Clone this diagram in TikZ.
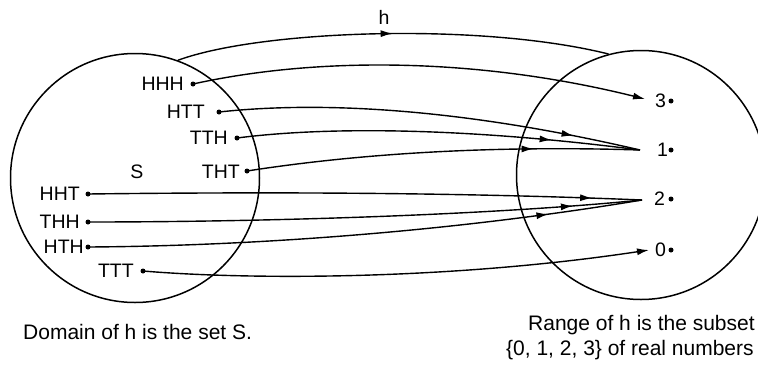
\documentclass[tikz,border=0pt]{standalone}
\usepackage{fontspec}
\setmainfont{Liberation Sans}
\usetikzlibrary{arrows.meta,decorations.markings}
\begin{document}
\begin{tikzpicture}[x=1pt,y=-1pt,
  setcirc/.style={circle,draw,line width=1.5pt,minimum size=249pt,inner sep=0},
  lbl/.style={inner sep=0,font=\fontsize{19.5}{22}\selectfont},
  captext/.style={inner sep=0,anchor=west,font=\fontsize{21}{24}\selectfont},
  conn/.style={line width=1.4pt},
  tip/.style={-{Latex[length=12pt,width=7pt]}},
  midarrow/.style={postaction={decorate},decoration={markings,
     mark=at position #1 with {\arrow{Latex[length=12pt,width=7pt]}}}}]
\useasboundingbox (0,0) rectangle (758,367);
% circles
\node[setcirc] (L) at (135,178) {};
\node[setcirc] (R) at (641,175) {};
% domain labels
\node[lbl,anchor=east] (tHHH) at (184,84) {HHH};
\node[lbl,anchor=east] (tHTT) at (205,112) {HTT};
\node[lbl,anchor=east] (tTTH) at (228,138) {TTH};
\node[lbl,anchor=east] (tTHT) at (240,172) {THT};
\node[lbl] (tS) at (137,172) {S};
\node[lbl,anchor=east] (tHHT) at (80,194) {HHT};
\node[lbl,anchor=east] (tTHH) at (80,222) {THH};
\node[lbl,anchor=east] (tHTH) at (84,247) {HTH};
\node[lbl,anchor=east] (tTTT) at (134,271) {TTT};
% range labels
\node[lbl,anchor=west] (t3) at (655,101) {3};
\node[lbl,anchor=west] (t1) at (657,150) {1};
\node[lbl,anchor=west] (t2) at (654,199) {2};
\node[lbl,anchor=west] (t0) at (655,250) {0};
% dots
\coordinate (dHHH) at (193,84);
\coordinate (dHTT) at (219,112);
\coordinate (dTTH) at (237,138);
\coordinate (dTHT) at (247,171);
\coordinate (dHHT) at (88,194);
\coordinate (dTHH) at (88,222);
\coordinate (dHTH) at (88,247);
\coordinate (dTTT) at (143,271);
\coordinate (r3) at (671,101);
\coordinate (r1) at (671,150);
\coordinate (r2) at (671,199);
\coordinate (r0) at (671,250);
\foreach \d in {dHHH,dHTT,dTTH,dTHT,dHHT,dTHH,dHTH,dTTT,r3,r1,r2,r0}
  \fill (\d) circle (2.5pt);
% targets
\coordinate (e3) at (645,99);
\coordinate (e1) at (640,150);
\coordinate (e2) at (642,200);
\coordinate (e0) at (649,250);
% h arc
\draw[conn,midarrow=0.5] (L.70) .. controls (260,30) and (480,22) .. (R.105);
\node[lbl] (h) at (384,17) {h};
% arrows
\draw[conn,tip] (dHHH) .. controls (320,56) and (480,58) .. (e3);
\draw[conn,midarrow=0.84] (dHTT) .. controls (320,101) and (460,108) .. (e1);
\draw[conn,midarrow=0.78] (dTTH) .. controls (330,126) and (470,128) .. (e1);
\draw[conn,midarrow=0.73] (dTHT) .. controls (350,155) and (480,145) .. (e1);
\draw[conn,midarrow=0.91] (dHHT) .. controls (250,192) and (450,192) .. (e2);
\draw[conn,midarrow=0.875] (dTHH) .. controls (250,222) and (480,216) .. (e2);
\draw[conn,midarrow=0.83] (dHTH) .. controls (250,246) and (450,232) .. (e2);
\draw[conn,tip] (dTTT) .. controls (250,280) and (450,280) .. (e0);
% captions
\node[captext] (cD) at (23,332) {Domain of h is the set S.};
\node[captext] (cR1) at (528,325) {Range of h is the subset};
\node[captext] (cR2) at (506,350) {\{0, 1, 2, 3\} of real numbers};
\end{tikzpicture}
\end{document}
